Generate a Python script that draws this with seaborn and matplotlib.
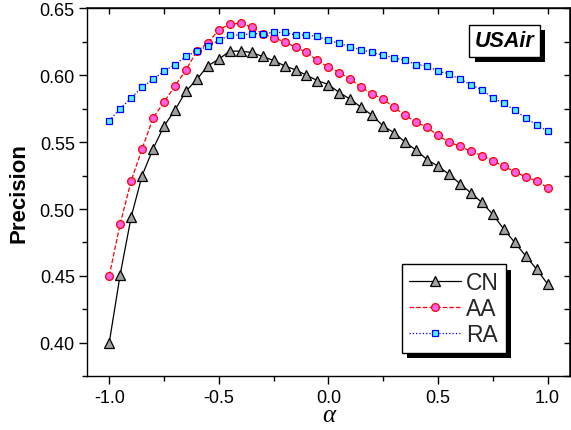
import pandas as pd
import matplotlib.pyplot as plt
import matplotlib.patheffects as pe
from matplotlib.ticker import MultipleLocator
import seaborn as sns

alpha = [-1.00, -0.95, -0.90, -0.85, -0.80, -0.75, -0.70, -0.65, -0.60, -0.55,
         -0.50, -0.45, -0.40, -0.35, -0.30, -0.25, -0.20, -0.15, -0.10, -0.05,
         0.00, 0.05, 0.10, 0.15, 0.20, 0.25, 0.30, 0.35, 0.40, 0.45,
         0.50, 0.55, 0.60, 0.65, 0.70, 0.75, 0.80, 0.85, 0.90, 0.95, 1.00]

cn = [0.400, 0.451, 0.494, 0.525, 0.545, 0.562, 0.574, 0.588, 0.597, 0.607,
      0.612, 0.618, 0.618, 0.617, 0.614, 0.611, 0.607, 0.604, 0.600, 0.596,
      0.593, 0.587, 0.582, 0.576, 0.570, 0.562, 0.557, 0.550, 0.544, 0.537,
      0.532, 0.526, 0.519, 0.512, 0.505, 0.496, 0.485, 0.475, 0.465, 0.455, 0.444]

aa = [0.450, 0.489, 0.521, 0.545, 0.568, 0.580, 0.592, 0.604, 0.618, 0.624,
      0.634, 0.638, 0.639, 0.636, 0.631, 0.628, 0.625, 0.621, 0.617, 0.611,
      0.606, 0.602, 0.597, 0.591, 0.586, 0.582, 0.576, 0.570, 0.565, 0.561,
      0.555, 0.550, 0.547, 0.543, 0.540, 0.536, 0.532, 0.528, 0.524, 0.521, 0.516]

ra = [0.566, 0.575, 0.583, 0.591, 0.597, 0.603, 0.608, 0.614, 0.618, 0.622,
      0.626, 0.630, 0.630, 0.631, 0.631, 0.632, 0.632, 0.630, 0.630, 0.629,
      0.626, 0.624, 0.621, 0.619, 0.617, 0.615, 0.613, 0.611, 0.608, 0.607,
      0.603, 0.601, 0.597, 0.593, 0.589, 0.583, 0.579, 0.574, 0.568, 0.563, 0.558]

labels = ['CN', 'AA', 'RA']
series = [cn, aa, ra]

sns.set_theme(style="ticks")
plt.rcParams['font.family'] = ['Liberation Sans', 'DejaVu Sans']

fig = plt.figure(figsize=(5.71, 4.31), dpi=100)
ax = fig.add_axes([0.1529, 0.1246, 0.8445, 0.8538])

estilos = {
    'CN': dict(marker='^', linestyle='-', color='black', markerfacecolor='#a0a0a0',
               markeredgecolor='black', markersize=6.8),
    'AA': dict(marker='o', linestyle='--', color='red', markerfacecolor='#ff60ea',
               markeredgecolor='red', markersize=5.6, dashes=(5, 3)),
    'RA': dict(marker='s', linestyle=':', color='blue', markerfacecolor='#55eeff',
               markeredgecolor='blue', markersize=4.8),
}

for nombre, valores in zip(labels, series):
    df = pd.DataFrame({'alpha': alpha, 'precision': valores})
    sns.lineplot(data=df, x='alpha', y='precision', ax=ax, label=nombre,
                 linewidth=0.9, markeredgewidth=0.9, **estilos[nombre])

ax.set_xlim(-1.1, 1.1)
ax.set_ylim(0.375, 0.65)
ax.xaxis.set_major_locator(MultipleLocator(0.5))
ax.xaxis.set_minor_locator(MultipleLocator(0.25))
ax.yaxis.set_major_locator(MultipleLocator(0.05))
ax.yaxis.set_minor_locator(MultipleLocator(0.025))
ax.xaxis.set_major_formatter(plt.FormatStrFormatter('%.1f'))
ax.yaxis.set_major_formatter(plt.FormatStrFormatter('%.2f'))

for s in ax.spines.values():
    s.set_color('black')
    s.set_linewidth(1.0)

ax.tick_params(which='major', direction='out', length=5.5, width=1, color='black',
               labelsize=13, labelcolor='black', pad=3.5)
ax.tick_params(which='minor', direction='out', length=3.8, width=1, color='black')

# ticks hacia dentro arriba y a la derecha
top = ax.secondary_xaxis('top')
top.xaxis.set_major_locator(MultipleLocator(0.25))
top.tick_params(direction='in', length=4, width=1, color='black', labeltop=False)
right = ax.secondary_yaxis('right')
right.yaxis.set_major_locator(MultipleLocator(0.025))
right.tick_params(direction='in', length=4, width=1, color='black', labelright=False)

ax.set_xlabel('α', fontsize=18, color='black', labelpad=-1,
              fontfamily='Liberation Serif', fontstyle='italic')
ax.set_ylabel('Precision', fontsize=16, fontweight='bold', color='black', labelpad=7)

leg = ax.legend(loc='lower left', bbox_to_anchor=(0.652, 0.064), borderaxespad=0,
                fontsize=16.5, frameon=True, fancybox=False, edgecolor='black',
                framealpha=1, handlelength=2.3, handletextpad=0.2,
                labelspacing=0.12, borderpad=0.3)
leg.get_frame().set_linewidth(1.0)
leg.get_frame().set_path_effects([pe.withSimplePatchShadow(offset=(4, -4),
                                  shadow_rgbFace='black', alpha=1)])

t = ax.text(0.865, 0.912, 'USAir', transform=ax.transAxes, ha='center', va='center',
            fontsize=15.5, fontweight='bold', fontstyle='italic', color='black',
            bbox=dict(boxstyle='square,pad=0.25', facecolor='white', edgecolor='black',
                      linewidth=1.0))
t.get_bbox_patch().set_path_effects([pe.withSimplePatchShadow(offset=(4, -4),
                                     shadow_rgbFace='black', alpha=1)])

plt.savefig('out.png', dpi=100)
plt.close()
